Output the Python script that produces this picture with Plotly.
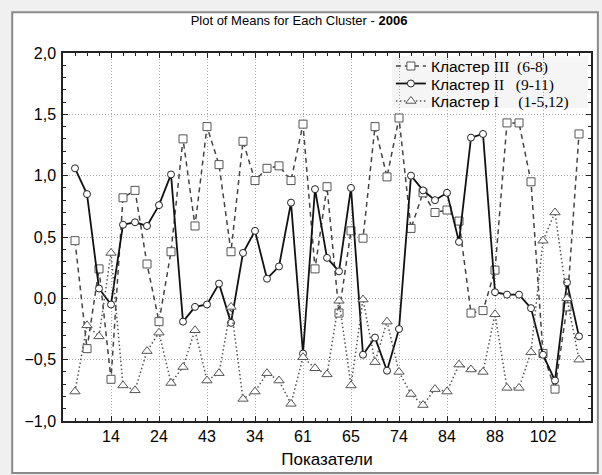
import plotly.graph_objects as go

# x positions are point indices 0..42; only every 4th point carries a label
tick_labels = ["14", "24", "43", "34", "61", "65", "74", "84", "88", "102"]

cluster3 = [0.47, -0.41, 0.24, -0.66, 0.82, 0.88, 0.28, -0.19, 0.38, 1.30,
            0.59, 1.40, 1.09, 0.38, 1.28, 0.96, 1.06, 1.08, 0.96, 1.42,
            0.24, 0.91, -0.12, 0.55, 0.49, 1.40, 0.99, 1.47, 0.57, 0.86,
            0.70, 0.72, 0.63, -0.12, -0.10, 0.23, 1.43, 1.43, 0.95, -0.45,
            -0.74, -0.07, 1.34]
cluster2 = [1.06, 0.85, 0.08, -0.05, 0.60, 0.62, 0.59, 0.76, 1.01, -0.19,
            -0.07, -0.05, 0.12, -0.20, 0.37, 0.55, 0.16, 0.26, 0.78, -0.45,
            0.89, 0.33, 0.22, 0.90, -0.46, -0.32, -0.59, -0.25, 1.00, 0.88,
            0.80, 0.86, 0.46, 1.31, 1.34, 0.05, 0.03, 0.03, -0.08, -0.46,
            -0.67, 0.13, -0.31]
cluster1 = [-0.76, -0.22, -0.31, 0.37, -0.71, -0.75, -0.43, -0.28, -0.69, -0.56,
            -0.26, -0.67, -0.61, -0.07, -0.82, -0.76, -0.61, -0.67, -0.86, -0.48,
            -0.57, -0.62, -0.02, -0.71, -0.01, -0.52, -0.19, -0.60, -0.78, -0.87,
            -0.74, -0.76, -0.54, -0.58, -0.60, -0.13, -0.73, -0.73, -0.44, 0.47,
            0.70, 0.00, -0.50]

NB = "\u00a0"
SERIF = "<span style='font-family:Liberation Serif, Times New Roman, serif'>"
names = [
    "Кластер" + NB + SERIF + "III" + NB * 2 + "(6-8)</span>",
    "Кластер" + NB + SERIF + "II" + NB * 3 + "(9-11)</span>",
    "Кластер" + NB + SERIF + "I" + NB * 5 + "(1-5,12)</span>",
]

x = list(range(len(cluster3)))
tick_pos = list(range(3, len(x), 4))

fig = go.Figure()
fig.add_trace(go.Scatter(
    x=x, y=cluster3, name=names[0], mode="lines+markers", legend="legend",
    line=dict(color="#444444", width=1.5, dash="5px,4px"),
    marker=dict(symbol="square", size=8, color="white",
                line=dict(color="#555555", width=1))))
fig.add_trace(go.Scatter(
    x=x, y=cluster2, name=names[1], mode="lines+markers", legend="legend2",
    line=dict(color="#111111", width=1.8),
    marker=dict(symbol="circle", size=7, color="white",
                line=dict(color="#222222", width=1))))
fig.add_trace(go.Scatter(
    x=x, y=cluster1, name=names[2], mode="lines+markers", legend="legend3",
    line=dict(color="#555555", width=1.5, dash="1.5px,2.5px"),
    marker=dict(symbol="triangle-up", size=9, color="white",
                line=dict(color="#555555", width=1))))

# outer panel frame
fig.add_shape(type="rect", xref="paper", yref="paper",
              x0=-0.0962, x1=1.013, y0=-0.141, y1=1.111,
              fillcolor="white", line=dict(color="#8a8a8a", width=2),
              layer="below")
# legend background box
fig.add_shape(type="rect", xref="paper", yref="paper",
              x0=0.623, x1=0.994, y0=0.850, y1=0.991,
              fillcolor="#f5f5f5", line=dict(width=0), layer="below")

leg_common = dict(xanchor="left", yanchor="middle", bgcolor="rgba(0,0,0,0)",
                  borderwidth=0, font=dict(size=15.5), itemwidth=30)
legend_rows = [0.9635, 0.916, 0.8685]

grid_style = dict(showgrid=True, gridcolor="#a8a8a8", griddash="1px,2px", gridwidth=1)

fig.update_layout(
    width=602, height=475,
    margin=dict(l=63, r=9, t=53, b=54),
    paper_bgcolor="#f0f0f0", plot_bgcolor="white",
    separators=", ",
    font=dict(family="Liberation Sans, Arial, sans-serif", size=16, color="black"),
    title=dict(text="Plot of Means for Each Cluster - <b>2006</b>",
               xref="paper", x=0.447, xanchor="center",
               yref="container", y=0.958, yanchor="middle",
               font=dict(size=13)),
    showlegend=True,
    legend=dict(x=0.621, y=legend_rows[0], **leg_common),
    legend2=dict(x=0.621, y=legend_rows[1], **leg_common),
    legend3=dict(x=0.621, y=legend_rows[2], **leg_common),
    xaxis=dict(range=[-1, len(x)], tickmode="array", tickvals=tick_pos,
               ticktext=tick_labels, zeroline=False, **grid_style,
               showline=True, linecolor="#222222", linewidth=1.5, mirror="ticks",
               ticks="inside", ticklen=5, tickcolor="#222222",
               tickfont=dict(size=16),
               minor=dict(tickmode="array", tickvals=x, ticks="inside",
                          ticklen=3, tickcolor="#222222", showgrid=False),
               title=dict(text="Показатели", font=dict(size=17), standoff=9)),
    yaxis=dict(range=[-1, 2], dtick=0.5, tick0=0, tickformat=".1f",
               zeroline=False, **grid_style,
               showline=True, linecolor="#222222", linewidth=1.5,
               mirror="ticks", ticks="inside", ticklen=5, tickcolor="#222222",
               ticklabelstandoff=2, tickfont=dict(size=16),
               minor=dict(dtick=0.1, ticks="inside", ticklen=3,
                          tickcolor="#222222", showgrid=False)),
)

fig.write_html("out.html", config={"displayModeBar": False},
               post_script="document.body.style.margin='0';")
